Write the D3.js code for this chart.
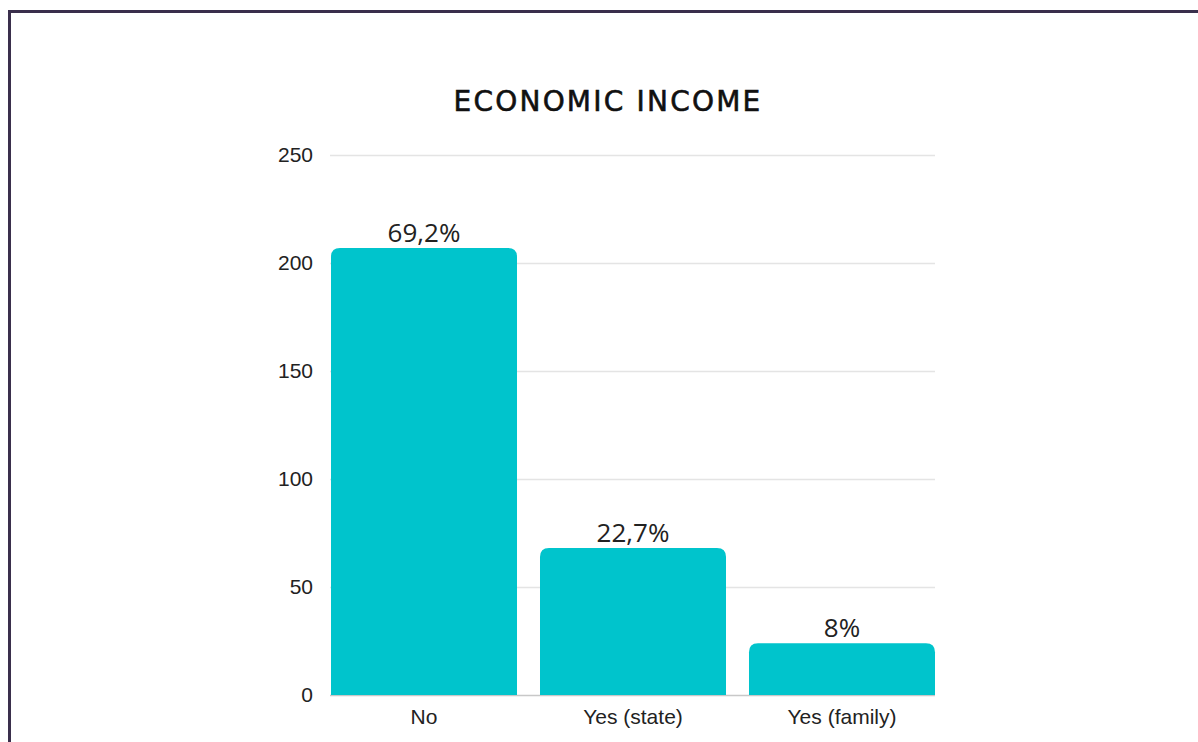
<!DOCTYPE html>
<html>
<head>
<meta charset="utf-8">
<script src="https://cdn.jsdelivr.net/npm/d3@7"></script>
<style>
  html, body { margin: 0; padding: 0; background: #fff; }
  svg { display: block; }
</style>
</head>
<body>
<svg id="chart" width="1198" height="742"></svg>
<script>
// Survey answers: does the respondent have an economic income?
const categories = ["No", "Yes (state)", "Yes (family)"];
const counts = [207, 68, 24];
const yTicks = [0, 50, 100, 150, 200, 250];
const chartTitle = "ECONOMIC INCOME";

const total = d3.sum(counts);
const pctLabel = v => {
  const p = Math.round(v / total * 1000) / 10;
  return d3.format(".1f")(p).replace(/\.0$/, "").replace(".", ",") + "%";
};

const svg = d3.select("#chart");
const plot = { left: 331, right: 935, top: 155, bottom: 695 };

// Frame (runs past the right and bottom edges)
svg.append("rect")
  .attr("x", 9.5).attr("y", 11.5)
  .attr("width", 1300).attr("height", 900)
  .attr("fill", "#fff")
  .attr("stroke", "#3a2f4c")
  .attr("stroke-width", 3);

const x = d3.scaleBand()
  .domain(categories)
  .range([plot.left, plot.right])
  .paddingInner(0.11)
  .paddingOuter(0);

const y = d3.scaleLinear()
  .domain([0, 250])
  .range([plot.bottom, plot.top]);

// Horizontal gridlines and tick labels
const yAxis = d3.axisLeft(y)
  .tickValues(yTicks)
  .tickSize(-(plot.right - plot.left + 1))
  .tickPadding(17)
  .tickFormat(d3.format("d"));

const gy = svg.append("g")
  .attr("transform", `translate(${plot.left - 1},0)`)
  .call(yAxis);
gy.select(".domain").remove();
gy.selectAll(".tick line")
  .attr("stroke", d => d === 0 ? "#c8c8c8" : "#e4e4e4")
  .attr("stroke-width", 1.5);
gy.selectAll(".tick text")
  .attr("fill", "#222")
  .style("font-family", "'Liberation Sans', Arial, sans-serif")
  .style("font-size", "21px");

// Bars with rounded top corners
const r = 9;
const barPath = (x0, w, yTop, yBase) => {
  const rr = Math.min(r, (yBase - yTop), w / 2);
  return `M${x0},${yBase}V${yTop + rr}Q${x0},${yTop} ${x0 + rr},${yTop}` +
         `H${x0 + w - rr}Q${x0 + w},${yTop} ${x0 + w},${yTop + rr}V${yBase}Z`;
};

svg.append("g")
  .selectAll("path")
  .data(categories)
  .join("path")
  .attr("d", (c, i) => barPath(x(c), x.bandwidth(), y(counts[i]), y(0)))
  .attr("fill", "#00c4cc");

// Percentage labels above bars
svg.append("g")
  .selectAll("text")
  .data(categories)
  .join("text")
  .attr("x", c => x(c) + x.bandwidth() / 2)
  .attr("y", (c, i) => y(counts[i]) - 6)
  .attr("text-anchor", "middle")
  .attr("fill", "#222")
  .style("font-family", "'Open Sans', sans-serif")
  .style("font-size", "26px")
  .text((c, i) => pctLabel(counts[i]));

// Category axis
const xAxis = d3.axisBottom(x).tickSize(0).tickPadding(14);
const gx = svg.append("g")
  .attr("transform", `translate(0,${plot.bottom})`)
  .call(xAxis);
gx.select(".domain").remove();
gx.selectAll(".tick text")
  .attr("fill", "#222")
  .style("font-family", "'Liberation Sans', Arial, sans-serif")
  .style("font-size", "21px");

// Title
svg.append("text")
  .attr("x", 608)
  .attr("y", 111)
  .attr("text-anchor", "middle")
  .attr("fill", "#111")
  .attr("stroke", "#111")
  .attr("stroke-width", 0.6)
  .style("font-family", "'DejaVu Sans', sans-serif")
  .style("font-size", "28px")
  .style("letter-spacing", "2.2px")
  .text(chartTitle);
</script>
</body>
</html>
